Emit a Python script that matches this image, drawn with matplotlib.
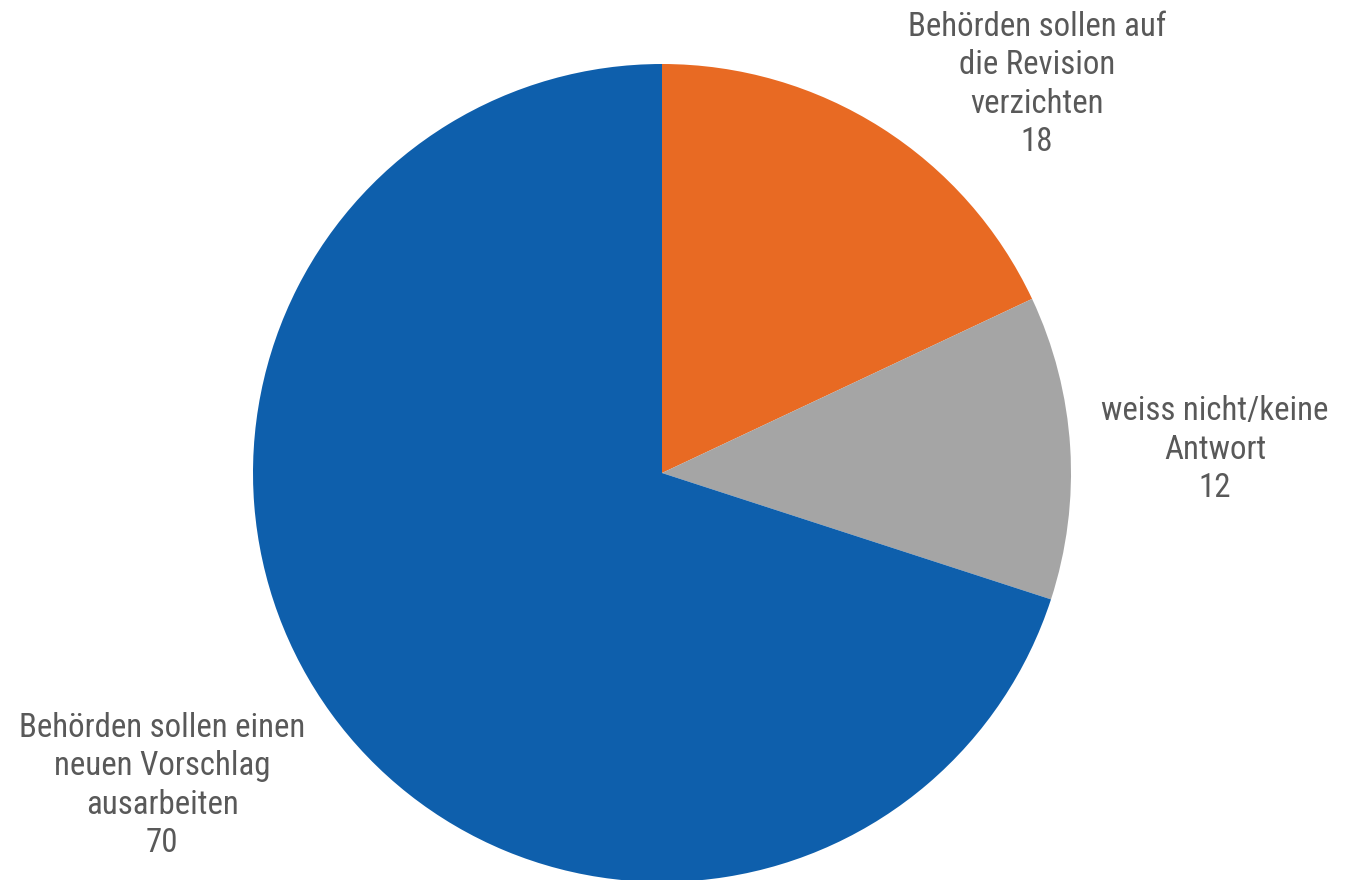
import matplotlib
matplotlib.use("Agg")
import matplotlib.pyplot as plt

labels = ["Behörden sollen auf\ndie Revision\nverzichten",
          "weiss nicht/keine\nAntwort",
          "Behörden sollen einen\nneuen Vorschlag\nausarbeiten"]
values = [18, 12, 70]
colors = ["#E86A23", "#A5A5A5", "#0E5FAC"]

W, H = 1355, 880
fig = plt.figure(figsize=(W / 100, H / 100), dpi=100)
ax = fig.add_axes([0, 0, 1, 1])
ax.set_xlim(0, W)
ax.set_ylim(0, H)
ax.set_aspect("equal")
ax.axis("off")

cx, cy, r = 662, H - 473, 409
ax.pie(values, colors=colors, startangle=90, counterclock=False,
       center=(cx, cy), radius=r, frame=True,
       wedgeprops=dict(linewidth=0))
ax.set_xlim(0, W)
ax.set_ylim(0, H)
ax.axis("off")

fam = ["Roboto Condensed", "Liberation Sans Narrow", "Roboto", "DejaVu Sans"]
txt_color = "#595959"
label_pos = [(1037, H - 84.5), (1215, H - 449.5), (162, H - 785.5)]
for lab, v, (x, y) in zip(labels, values, label_pos):
    ax.text(x, y, f"{lab}\n{v}", ha="center", va="center", fontsize=23.7,
            family=fam, color=txt_color, linespacing=1.26)

fig.savefig("out.png", dpi=100)
